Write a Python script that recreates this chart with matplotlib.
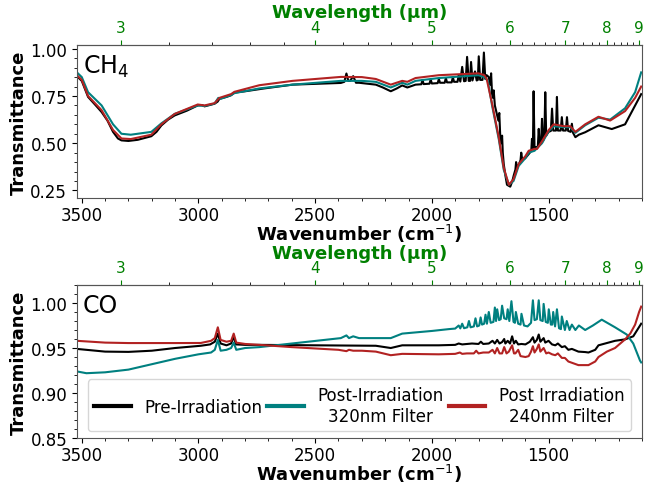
import matplotlib
matplotlib.use("Agg")
import matplotlib.pyplot as plt
from matplotlib.ticker import AutoMinorLocator, MultipleLocator, FixedLocator

# CH4 panel
ch4_pre_wn = [3521, 3500, 3473, 3440, 3415, 3390, 3366, 3345, 3330, 3300, 3260, 3202, 3180, 3159,
              3130, 3102, 3050, 3003, 2985, 2974, 2950, 2931, 2918, 2910, 2880, 2860, 2846, 2800,
              2718, 2597, 2390, 2375, 2366, 2358, 2350, 2337, 2325, 2312, 2240, 2210, 2176, 2150,
              2127, 2105, 2070, 2045, 2040, 2035, 2010, 2005, 2000, 1975, 1970, 1965, 1945, 1940,
              1935, 1915, 1910, 1905, 1890, 1885, 1878, 1870, 1862, 1855, 1849, 1842, 1836, 1832,
              1826, 1815, 1808, 1803, 1799, 1793, 1783, 1777, 1771, 1765, 1756, 1750, 1746, 1742,
              1738, 1735, 1730, 1720, 1715, 1711, 1706, 1702, 1699, 1696, 1692, 1685, 1678, 1664,
              1655, 1649, 1642, 1639, 1635, 1628, 1620, 1617, 1613, 1600, 1580, 1574, 1571, 1567,
              1564, 1560, 1552, 1546, 1542, 1538, 1532, 1528, 1524, 1518, 1514, 1510, 1500, 1490,
              1485, 1480, 1468, 1464, 1460, 1448, 1443, 1438, 1426, 1421, 1416, 1405, 1400, 1395,
              1385, 1370, 1343, 1286, 1229, 1172, 1129, 1103]
ch4_pre = [0.855, 0.83, 0.745, 0.70, 0.665, 0.62, 0.56, 0.525, 0.515, 0.512, 0.518, 0.537, 0.56, 0.594,
           0.625, 0.647, 0.672, 0.70, 0.702, 0.695, 0.703, 0.709, 0.72, 0.735, 0.745, 0.754, 0.768, 0.775,
           0.79, 0.81, 0.819, 0.825, 0.869, 0.83, 0.83, 0.855, 0.82, 0.82, 0.81, 0.795, 0.775, 0.79,
           0.806, 0.795, 0.81, 0.812, 0.835, 0.813, 0.815, 0.838, 0.816, 0.818, 0.84, 0.82, 0.82, 0.845,
           0.822, 0.822, 0.85, 0.825, 0.825, 0.86, 0.826, 0.904, 0.828, 0.83, 0.957, 0.83, 0.83, 0.93,
           0.832, 0.88, 0.832, 0.835, 0.96, 0.835, 0.835, 0.98, 0.84, 0.86, 0.85, 0.81, 0.87, 0.76,
           0.74, 0.78, 0.70, 0.647, 0.62, 0.66, 0.51, 0.50, 0.54, 0.45, 0.39, 0.33, 0.28, 0.27,
           0.30, 0.33, 0.36, 0.40, 0.37, 0.385, 0.41, 0.45, 0.415, 0.42, 0.45, 0.46, 0.523, 0.47,
           0.775, 0.47, 0.48, 0.48, 0.576, 0.49, 0.50, 0.629, 0.51, 0.53, 0.77, 0.54, 0.56, 0.565,
           0.683, 0.567, 0.567, 0.745, 0.567, 0.567, 0.638, 0.567, 0.567, 0.638, 0.565, 0.56, 0.603, 0.555,
           0.532, 0.545, 0.558, 0.595, 0.575, 0.60, 0.70, 0.76]

ch4_320_wn = [3521, 3500, 3473, 3415, 3366, 3330, 3290, 3202, 3159, 3102, 3003, 2974, 2931, 2915,
              2905, 2860, 2846, 2739, 2597, 2390, 2300, 2240, 2176, 2127, 2105, 2070, 1970, 1800,
              1775, 1760, 1742, 1713, 1692, 1670, 1650, 1628, 1600, 1585, 1560, 1528, 1499, 1478,
              1435, 1407, 1385, 1343, 1286, 1236, 1172, 1129, 1103]
ch4_320 = [0.875, 0.85, 0.77, 0.70, 0.60, 0.55, 0.545, 0.56, 0.605, 0.655, 0.70, 0.697, 0.71, 0.74,
           0.735, 0.755, 0.765, 0.79, 0.81, 0.83, 0.83, 0.825, 0.795, 0.82, 0.81, 0.83, 0.845, 0.86,
           0.85, 0.83, 0.70, 0.52, 0.36, 0.28, 0.30, 0.38, 0.42, 0.45, 0.46, 0.50, 0.565, 0.59,
           0.585, 0.585, 0.555, 0.595, 0.635, 0.625, 0.685, 0.77, 0.875]

ch4_240_wn = [3521, 3500, 3473, 3415, 3366, 3330, 3290, 3202, 3159, 3102, 3003, 2974, 2931, 2910,
              2860, 2846, 2739, 2597, 2390, 2300, 2240, 2176, 2127, 2105, 2070, 1970, 1800, 1775,
              1765, 1742, 1713, 1692, 1670, 1650, 1628, 1600, 1585, 1560, 1549, 1528, 1499, 1478,
              1435, 1407, 1385, 1343, 1286, 1236, 1172, 1129, 1103]
ch4_240 = [0.86, 0.835, 0.75, 0.675, 0.57, 0.525, 0.522, 0.545, 0.60, 0.655, 0.705, 0.70, 0.712, 0.74,
           0.76, 0.772, 0.807, 0.83, 0.851, 0.85, 0.84, 0.81, 0.83, 0.825, 0.845, 0.86, 0.87, 0.86,
           0.84, 0.71, 0.53, 0.37, 0.28, 0.31, 0.39, 0.43, 0.46, 0.47, 0.47, 0.51, 0.57, 0.60,
           0.59, 0.59, 0.56, 0.60, 0.64, 0.62, 0.67, 0.74, 0.80]

# CO panel
co_pre_wn = [3521, 3400, 3300, 3200, 3100, 2990, 2950, 2930, 2917, 2905, 2880, 2860, 2849, 2840,
             2800, 2739, 2500, 2240, 2176, 2127, 1970, 1900, 1885, 1870, 1828, 1800, 1790, 1780,
             1756, 1740, 1730, 1720, 1710, 1699, 1690, 1685, 1675, 1665, 1656, 1648, 1640, 1630,
             1616, 1599, 1580, 1567, 1560, 1550, 1542, 1535, 1521, 1514, 1500, 1485, 1471, 1460,
             1443, 1430, 1415, 1400, 1372, 1343, 1329, 1300, 1286, 1215, 1172, 1137, 1120, 1103]
co_pre = [0.949, 0.946, 0.9457, 0.947, 0.950, 0.9525, 0.954, 0.957, 0.966, 0.955, 0.953, 0.955, 0.963, 0.954,
          0.9535, 0.9535, 0.953, 0.9525, 0.950, 0.953, 0.953, 0.9535, 0.955, 0.954, 0.955, 0.9545, 0.957, 0.9545,
          0.955, 0.958, 0.955, 0.959, 0.955, 0.9566, 0.960, 0.955, 0.958, 0.955, 0.963, 0.955, 0.958, 0.954,
          0.9545, 0.954, 0.957, 0.962, 0.956, 0.959, 0.965, 0.957, 0.961, 0.956, 0.958, 0.954, 0.953, 0.955,
          0.951, 0.952, 0.948, 0.949, 0.946, 0.9455, 0.945, 0.948, 0.953, 0.958, 0.9596, 0.963, 0.970, 0.977]

co_320_wn = [3521, 3480, 3400, 3300, 3200, 3100, 3000, 2946, 2930, 2917, 2905, 2880, 2860, 2849,
             2838, 2800, 2739, 2600, 2390, 2366, 2355, 2337, 2312, 2176, 2127, 1998, 1927, 1900,
             1885, 1878, 1870, 1862, 1848, 1841, 1834, 1820, 1813, 1806, 1797, 1791, 1785, 1776,
             1770, 1764, 1756, 1748, 1736, 1730, 1725, 1720, 1712, 1705, 1699, 1690, 1680, 1675,
             1668, 1659, 1650, 1644, 1640, 1630, 1620, 1616, 1605, 1590, 1575, 1567, 1560, 1550,
             1542, 1535, 1525, 1521, 1512, 1503, 1499, 1490, 1484, 1480, 1472, 1464, 1455, 1447,
             1443, 1430, 1422, 1410, 1400, 1385, 1370, 1343, 1310, 1272, 1215, 1165, 1137, 1108, 1103]
co_320 = [0.924, 0.922, 0.923, 0.926, 0.932, 0.938, 0.943, 0.945, 0.948, 0.959, 0.947, 0.948, 0.950, 0.956,
          0.948, 0.950, 0.951, 0.955, 0.961, 0.964, 0.961, 0.963, 0.961, 0.961, 0.966, 0.969, 0.971, 0.9716,
          0.975, 0.9718, 0.977, 0.972, 0.973, 0.980, 0.973, 0.974, 0.983, 0.974, 0.975, 0.984, 0.976, 0.977,
          0.987, 0.977, 0.990, 0.978, 0.979, 0.995, 0.98, 0.993, 0.981, 0.982, 0.997, 0.983, 0.982, 0.993,
          0.980, 1.002, 0.979, 0.978, 0.99, 0.977, 0.976, 0.988, 0.975, 0.974, 0.978, 1.003, 0.981, 0.982,
          1.003, 0.981, 0.980, 0.999, 0.979, 0.978, 0.993, 0.976, 0.976, 0.99, 0.974, 0.993, 0.972, 0.971,
          0.985, 0.970, 0.98, 0.970, 0.976, 0.970, 0.975, 0.970, 0.975, 0.9815, 0.973, 0.965, 0.955, 0.936, 0.934]

co_240_wn = [3521, 3400, 3300, 3100, 2990, 2946, 2930, 2917, 2905, 2880, 2860, 2849, 2838, 2800,
             2739, 2600, 2400, 2366, 2355, 2337, 2300, 2240, 2176, 2127, 1970, 1900, 1880, 1870,
             1850, 1820, 1810, 1800, 1780, 1756, 1740, 1730, 1720, 1710, 1699, 1690, 1680, 1670,
             1656, 1648, 1642, 1630, 1620, 1599, 1585, 1575, 1567, 1560, 1550, 1542, 1535, 1521,
             1510, 1500, 1485, 1471, 1460, 1443, 1430, 1415, 1372, 1329, 1300, 1286, 1250, 1215,
             1172, 1150, 1129, 1112, 1103]
co_240 = [0.958, 0.956, 0.9555, 0.9555, 0.9556, 0.958, 0.961, 0.973, 0.959, 0.957, 0.958, 0.966, 0.956, 0.9545,
          0.9535, 0.951, 0.948, 0.9465, 0.948, 0.947, 0.947, 0.946, 0.942, 0.9435, 0.943, 0.9435, 0.945, 0.9435,
          0.944, 0.944, 0.947, 0.944, 0.945, 0.945, 0.948, 0.944, 0.950, 0.944, 0.944, 0.951, 0.944, 0.946,
          0.953, 0.944, 0.944, 0.948, 0.941, 0.940, 0.941, 0.946, 0.952, 0.945, 0.949, 0.954, 0.946, 0.950,
          0.944, 0.945, 0.943, 0.942, 0.944, 0.939, 0.939, 0.935, 0.931, 0.931, 0.935, 0.940, 0.946, 0.950,
          0.9596, 0.966, 0.976, 0.990, 0.996]

series_labels = ['Pre-Irradiation', 'Post-Irradiation\n320nm Filter', 'Post Irradiation\n240nm Filter']
series_colors = ['black', 'teal', 'firebrick']
um_ticks = [3, 4, 5, 6, 7, 8, 9]

fig = plt.figure(figsize=(6.57, 4.85), dpi=100)
ax1 = fig.add_axes([0.117, 0.5897, 0.86, 0.3155])
ax2 = fig.add_axes([0.117, 0.0948, 0.86, 0.3155])

panels = [
    (ax1, [(ch4_pre_wn, ch4_pre), (ch4_320_wn, ch4_320), (ch4_240_wn, ch4_240)], 'CH$_4$', (0.21, 1.02)),
    (ax2, [(co_pre_wn, co_pre), (co_320_wn, co_320), (co_240_wn, co_240)], 'CO', (0.85, 1.02)),
]

for ax, curves, name, ylim in panels:
    for (wn, tr), lab, col in zip(curves, series_labels, series_colors):
        ax.plot(wn, tr, color=col, lw=1.5, label=lab)
    ax.set_xlim(3521, 1100)
    ax.set_ylim(*ylim)
    ax.xaxis.set_minor_locator(MultipleLocator(100))
    ax.yaxis.set_minor_locator(AutoMinorLocator(5))
    ax.tick_params(labelsize=12)
    ax.tick_params(axis='x', pad=2)
    ax.set_xlabel('Wavenumber (cm$^{-1}$)', fontsize=13, fontweight='bold', labelpad=-1)
    ax.set_ylabel('Transmittance', fontsize=13, fontweight='bold', labelpad=2)
    ax.text(0.01, 0.95, name, transform=ax.transAxes, fontsize=17, va='top', ha='left')
    for sp in ax.spines.values():
        sp.set_color('#555555')

    sec = ax.secondary_xaxis('top', functions=(lambda x: 1e4 / x, lambda x: 1e4 / x))
    sec.xaxis.set_major_locator(FixedLocator(um_ticks))
    sec.xaxis.set_minor_locator(MultipleLocator(0.2))
    sec.tick_params(axis='x', which='major', labelsize=11, colors='green')
    sec.set_xlabel('Wavelength (µm)', fontsize=13, fontweight='bold', color='green', labelpad=2)
    sec.spines['top'].set_color('#555555')

ax1.set_yticks([0.25, 0.5, 0.75, 1.0])
ax2.set_yticks([0.85, 0.90, 0.95, 1.00])

leg = ax2.legend(loc='lower center', ncol=3, fontsize=12, handlelength=2.2,
                 columnspacing=0.3, handletextpad=0.8, borderaxespad=0.4)
for line in leg.get_lines():
    line.set_linewidth(3)
for t in leg.get_texts():
    t.set_multialignment('center')

fig.savefig('out.png', dpi=100)
